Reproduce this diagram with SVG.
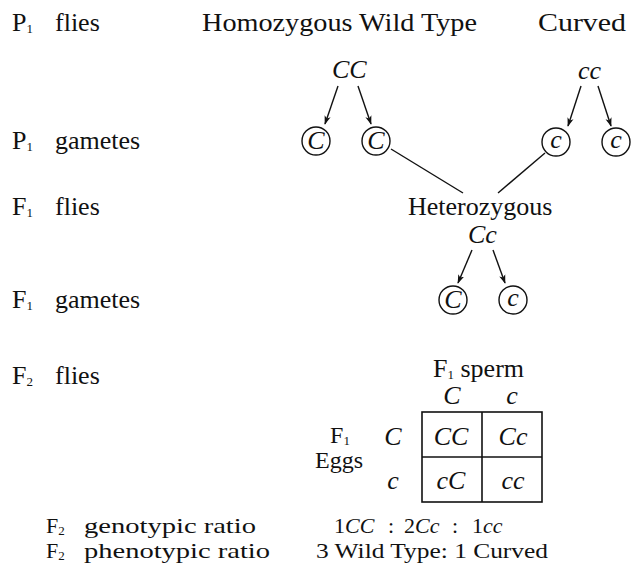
<svg xmlns="http://www.w3.org/2000/svg" width="633" height="571" viewBox="0 0 633 571">
<style>
text{font-family:"Liberation Serif","Times New Roman",serif;font-size:26px;fill:#111}
.i{font-style:italic}
.sub{font-size:13px}
.c{text-anchor:middle}
.circ{fill:none;stroke:#111;stroke-width:1.4}
.ln{fill:none;stroke:#111;stroke-width:1.4}
.arr{fill:none;stroke:#111;stroke-width:1.4;marker-end:url(#ah)}
.tb{fill:none;stroke:#111;stroke-width:1.6}
.sm{font-size:24px}
.xs{font-size:22px}
</style>
<defs>
<marker id="ah" viewBox="0 0 10 10" refX="9" refY="5" markerWidth="9" markerHeight="9" markerUnits="userSpaceOnUse" orient="auto">
<path d="M0,1.5 L10,5 L0,8.5 L2.5,5 Z" fill="#111"/>
</marker>
</defs>
<rect width="633" height="571" fill="#fff"/>

<g id="labels">
<text x="12" y="31">P<tspan class="sub" dy="2">1</tspan></text><text x="55" y="31">flies</text>
<text x="12" y="149">P<tspan class="sub" dy="2">1</tspan></text><text x="55" y="149">gametes</text>
<text x="12" y="215">F<tspan class="sub" dy="2">1</tspan></text><text x="55" y="215">flies</text>
<text x="12" y="308">F<tspan class="sub" dy="2">1</tspan></text><text x="55" y="308">gametes</text>
<text x="12" y="384">F<tspan class="sub" dy="2">2</tspan></text><text x="55" y="384">flies</text>
</g>

<g id="wildtype">
<text x="202" y="31" textLength="275" lengthAdjust="spacingAndGlyphs">Homozygous Wild Type</text>
<text class="i" x="332" y="78">CC</text>
</g>
<g id="curved">
<text x="538" y="31" textLength="88" lengthAdjust="spacingAndGlyphs">Curved</text>
<text class="i" x="578" y="79">cc</text>
</g>

<g id="gamete-C1"><circle class="circ" cx="316" cy="141" r="14"/><text class="i c" x="316" y="149" font-size="24">C</text></g>
<g id="gamete-C2"><circle class="circ" cx="376" cy="141" r="14"/><text class="i c" x="376" y="149" font-size="24">C</text></g>
<g id="gamete-c1"><circle class="circ" cx="556" cy="142" r="14"/><text class="i c" x="556" y="148" font-size="24">c</text></g>
<g id="gamete-c2"><circle class="circ" cx="616" cy="142" r="14"/><text class="i c" x="616" y="148" font-size="24">c</text></g>

<g id="heterozygous">
<text x="408" y="215">Heterozygous</text>
<text class="i" x="468" y="243">Cc</text>
</g>

<g id="f1-gamete-C"><circle class="circ" cx="453" cy="300" r="14"/><text class="i c" x="453" y="308" font-size="24">C</text></g>
<g id="f1-gamete-c"><circle class="circ" cx="513" cy="300" r="14"/><text class="i c" x="513" y="306" font-size="24">c</text></g>

<g id="connectors">
<line class="arr" x1="338" y1="86" x2="325" y2="124"/>
<line class="arr" x1="358" y1="86" x2="371" y2="124"/>
<line class="arr" x1="581" y1="86" x2="568" y2="126"/>
<line class="arr" x1="598" y1="86" x2="611" y2="126"/>
<line class="ln" x1="391" y1="149" x2="463" y2="193"/>
<line class="ln" x1="545" y1="153" x2="498" y2="193"/>
<line class="arr" x1="472" y1="250" x2="458" y2="283"/>
<line class="arr" x1="493" y1="250" x2="505" y2="283"/>
</g>

<g id="punnett">
<text x="433" y="377">F<tspan class="sub" dy="2">1</tspan><tspan dy="-2"> sperm</tspan></text>
<text class="i c" x="452" y="404">C</text>
<text class="i c" x="512" y="404">c</text>
<text class="c sm" x="340" y="443">F<tspan class="sub" dy="2">1</tspan></text>
<text class="c sm" x="339" y="468">Eggs</text>
<text class="i c" x="393" y="445">C</text>
<text class="i c" x="393" y="489">c</text>
<rect class="tb" x="422" y="412" width="120" height="90"/>
<line class="tb" x1="482" y1="412" x2="482" y2="502"/>
<line class="tb" x1="422" y1="457" x2="542" y2="457"/>
<text class="i c" x="451" y="445">CC</text>
<text class="i c" x="513" y="445">Cc</text>
<text class="i c" x="451" y="489">cC</text>
<text class="i c" x="513" y="489">cc</text>
</g>

<g id="ratios">
<text class="xs" x="46" y="533">F<tspan class="sub" dy="2">2</tspan></text>
<text class="xs" x="84" y="533" textLength="172" lengthAdjust="spacingAndGlyphs">genotypic ratio</text>
<text class="xs" x="46" y="558">F<tspan class="sub" dy="2">2</tspan></text>
<text class="xs" x="84" y="558" textLength="186" lengthAdjust="spacingAndGlyphs">phenotypic ratio</text>
<text class="xs" x="334" y="533">1<tspan class="i">CC</tspan><tspan x="388">:</tspan><tspan x="404">2</tspan><tspan class="i">Cc</tspan><tspan x="452">:</tspan><tspan x="472">1</tspan><tspan class="i">cc</tspan></text>
<text class="xs" x="316" y="558" textLength="232" lengthAdjust="spacingAndGlyphs">3 Wild Type: 1 Curved</text>
</g>
</svg>
